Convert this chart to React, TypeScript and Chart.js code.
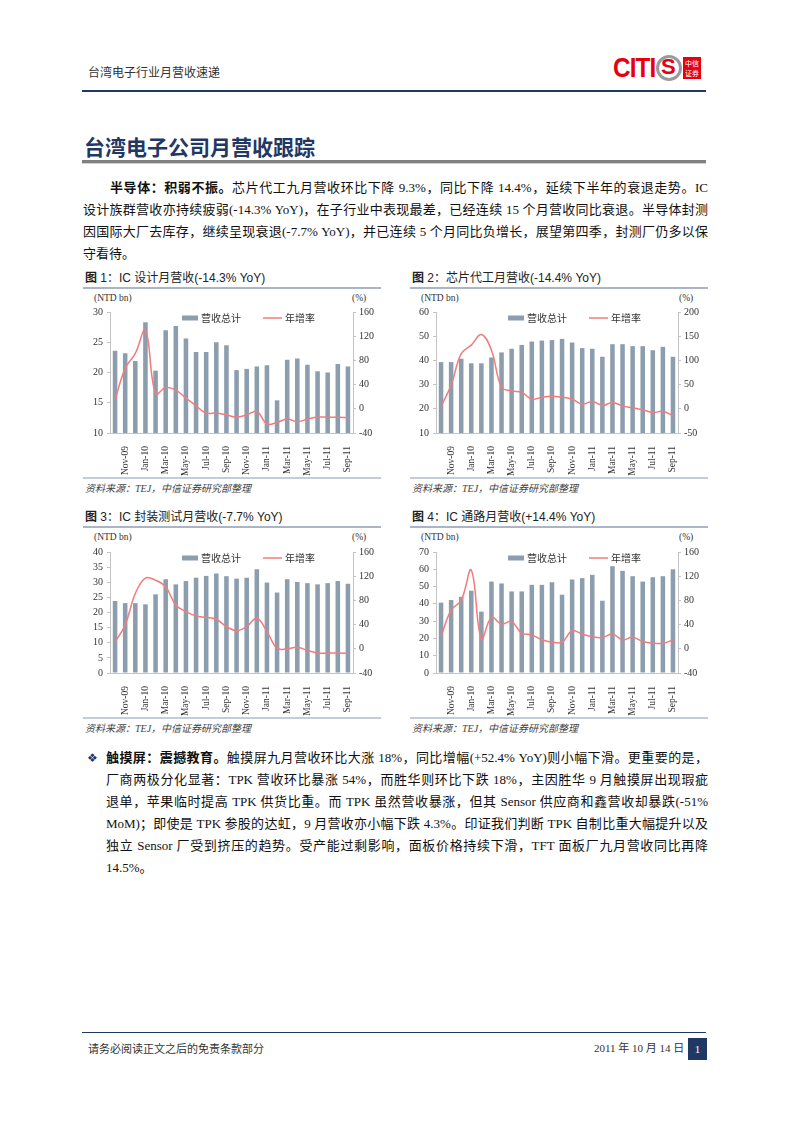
import React, { useEffect, useRef } from 'react';
import { Chart, registerables } from 'chart.js';

Chart.register(...registerables);

// ---------- data ----------
const months = [
  'Oct-09', 'Nov-09', 'Dec-09', 'Jan-10', 'Feb-10', 'Mar-10', 'Apr-10', 'May-10',
  'Jun-10', 'Jul-10', 'Aug-10', 'Sep-10', 'Oct-10', 'Nov-10', 'Dec-10', 'Jan-11',
  'Feb-11', 'Mar-11', 'Apr-11', 'May-11', 'Jun-11', 'Jul-11', 'Aug-11', 'Sep-11',
];

const revenueLabel = '营收总计';
const yoyLabel = '年增率';

// Fig 1: IC design
const designRevenue = [23.6, 23.2, 21.9, 28.3, 20.3, 27.0, 27.7, 25.6, 23.4, 23.4, 25.0, 24.5, 20.4, 20.6, 21.0, 21.2, 15.4, 22.1, 22.3, 21.3, 20.2, 20.0, 21.4, 21.0];
const designYoY = [14.8, 66.8, 91.5, 129.9, 24.7, 35, 31, 17.5, 5, -7, -7, -10, -13.7, -10, -4.4, -25, -22.5, -17, -21.4, -17, -13.7, -14, -14, -14.3];

// Fig 2: foundry
const foundryRevenue = [39.3, 39.3, 40.7, 38.8, 38.8, 41.2, 43.3, 44.8, 46.4, 47.8, 48.2, 48.4, 48.9, 47.4, 45.1, 44.8, 41.5, 46.7, 46.7, 45.9, 45.9, 44.2, 45.6, 41.5];
const foundryYoY = [5, 49, 114, 131.5, 153.4, 121, 44.5, 37, 34, 19.9, 24, 26, 24, 20, 9.6, 15, 7, 13, 6, 2, -2, -7.5, -5.5, -14.4];

// Fig 3: packaging & testing
const packagingRevenue = [23.8, 23.1, 23.1, 22.7, 26.0, 31.0, 29.3, 30.4, 31.5, 32.1, 32.9, 32.0, 31.2, 31.5, 34.3, 29.9, 26.6, 31.0, 30.1, 29.7, 29.3, 29.7, 30.4, 29.5];
const packagingYoY = [11, 39.5, 91.5, 117, 113.4, 102.5, 72.3, 61.4, 54.2, 52, 48.8, 36.7, 30, 36.7, 50.4, 28.5, 1, 0, 2.7, -2.7, -7, -7, -7, -7.7];

// Fig 4: IC distribution
const distributionRevenue = [40.7, 42.2, 44.1, 47.6, 35.5, 52.9, 51.8, 47.2, 47.2, 51.0, 51.0, 52.5, 45.3, 54.1, 54.9, 56.8, 41.8, 61.8, 59.1, 56.0, 52.9, 55.4, 56.0, 60.0];
const distributionYoY = [20.3, 64, 80, 129.9, 15.9, 52, 41, 45, 25.8, 23, 15, 11, 11, 30, 24.4, 20, 18.6, 24.4, 14.8, 19, 12, 9.3, 9.3, 14.4];

// ---------- styles ----------
const BAR = '#8c9eae';
const LINE = '#f27b7b';
const AXIS = '#c4c4c4';
const NAVY = '#1f3864';
const SERIF = "'Liberation Serif', 'Noto Sans CJK SC', serif";
const CJK = "'Noto Sans CJK SC', 'Liberation Sans', sans-serif";
const SANS = "'Liberation Sans', 'Noto Sans CJK SC', sans-serif";

const inLegend = {
  id: 'inLegend',
  afterDatasetsDraw(chart: any) {
    const { ctx, chartArea } = chart;
    const ds = chart.data.datasets;
    const x0 = chartArea.left;
    const y = chartArea.top + 6;
    ctx.save();
    ctx.font = "10px 'Noto Sans CJK SC'";
    ctx.textBaseline = 'middle';
    ctx.fillStyle = ds[0].backgroundColor;
    ctx.fillRect(x0 + 72, y - 2.5, 16, 5);
    ctx.fillStyle = '#333';
    ctx.fillText(ds[0].label, x0 + 91, y);
    ctx.strokeStyle = ds[1].borderColor;
    ctx.lineWidth = 1.5;
    ctx.beginPath();
    ctx.moveTo(x0 + 153, y);
    ctx.lineTo(x0 + 172, y);
    ctx.stroke();
    ctx.fillText(ds[1].label, x0 + 175, y);
    ctx.restore();
  },
};

type ChartProps = {
  left: number; top: number; width: number; height: number;
  revenue: number[]; yoy: number[];
  lMin: number; lMax: number; lStep: number;
  rMin: number; rMax: number; rStep: number;
};

function RevenueChart(p: ChartProps) {
  const ref = useRef<HTMLCanvasElement>(null);
  useEffect(() => {
    const tickFont = { family: 'Liberation Serif', size: 10 };
    const chart = new Chart(ref.current as HTMLCanvasElement, {
      type: 'bar',
      data: {
        labels: months,
        datasets: [
          {
            type: 'bar', label: revenueLabel, data: p.revenue, backgroundColor: BAR,
            yAxisID: 'y', order: 2, categoryPercentage: 1, barPercentage: 0.45,
          } as any,
          {
            type: 'line', label: yoyLabel, data: p.yoy, borderColor: LINE, borderWidth: 1.5,
            pointRadius: 0, tension: 0.4, yAxisID: 'y1', order: 1, fill: false,
          } as any,
        ],
      },
      options: {
        responsive: false,
        animation: false,
        layout: { padding: { top: 12, left: 0, right: 0, bottom: 0 } },
        plugins: { legend: { display: false }, tooltip: { enabled: false } },
        scales: {
          x: {
            offset: true,
            grid: { display: false },
            border: { display: true, color: AXIS },
            ticks: {
              autoSkip: false, maxRotation: 90, minRotation: 90, padding: 5, color: '#333',
              font: { family: 'Liberation Serif', size: 9.5 },
              callback: function (this: any, v: any, i: number) {
                return i % 2 === 1 ? this.getLabelForValue(v) : '';
              },
            },
            afterFit: (s: any) => { s.height = 43; },
          },
          y: {
            position: 'left', min: p.lMin, max: p.lMax,
            ticks: { stepSize: p.lStep, padding: 4, color: '#333', font: tickFont },
            grid: { drawOnChartArea: false, color: AXIS, tickLength: 3 },
            border: { color: AXIS },
            afterFit: (s: any) => { s.width = 28; },
          },
          y1: {
            position: 'right', min: p.rMin, max: p.rMax,
            ticks: { stepSize: p.rStep, padding: 3, color: '#333', font: tickFont },
            grid: { drawOnChartArea: false, color: AXIS, tickLength: 3 },
            border: { color: AXIS },
            afterFit: (s: any) => { s.width = 30; },
          },
        },
      } as any,
      plugins: [inLegend],
    });
    return () => chart.destroy();
  }, []);
  return (
    <canvas
      ref={ref}
      width={p.width}
      height={p.height}
      style={{ position: 'absolute', left: p.left, top: p.top, width: p.width, height: p.height }}
    />
  );
}

function Txt(props: { x: number; y: number; size: number; children: any; style?: any }) {
  const lh = props.size * 1.4;
  return (
    <div
      style={{
        position: 'absolute', left: props.x, top: props.y - lh / 2, fontSize: props.size,
        lineHeight: lh + 'px', whiteSpace: 'nowrap', ...props.style,
      }}
    >
      {props.children}
    </div>
  );
}

function JLine(props: { x: number; y: number; w: number; children: any; last?: boolean }) {
  return (
    <div
      style={{
        position: 'absolute', left: props.x, top: props.y - 11, width: props.w, height: 22,
        lineHeight: '22px', fontSize: 13, fontFamily: SERIF, color: '#111',
        textAlign: props.last ? 'left' : 'justify', textAlignLast: props.last ? 'left' : 'justify',
        whiteSpace: 'nowrap', overflow: 'visible',
      } as any}
    >
      {props.children}
    </div>
  );
}

function HLine(props: { x: number; y: number; w: number; h: number; color: string }) {
  return <div style={{ position: 'absolute', left: props.x, top: props.y, width: props.w, height: props.h, background: props.color }} />;
}

function ChartFrame(props: { x: number; yTitle: number; title: any; src: number; bottom: number; unitY: number; pctX: number }) {
  return (
    <>
      <Txt x={props.x + 2} y={props.yTitle} size={12} style={{ fontFamily: SANS, color: '#222' }}>{props.title}</Txt>
      <HLine x={props.x} y={props.yTitle + 9} w={298} h={1.5} color="#aab6c6" />
      <Txt x={props.x + 11} y={props.yTitle + 21} size={9.5} style={{ fontFamily: SERIF, color: '#333' }}>(NTD bn)</Txt>
      <Txt x={props.pctX} y={props.yTitle + 21} size={9.5} style={{ fontFamily: SERIF, color: '#333' }}>(%)</Txt>
      <HLine x={props.x} y={props.bottom} w={298} h={2} color="#c3ccd8" />
      <Txt x={props.x + 2} y={props.src} size={10} style={{ fontFamily: SERIF, color: '#444', fontStyle: 'italic' }}>资料来源：TEJ，中信证券研究部整理</Txt>
    </>
  );
}

export default function App() {
  return (
    <div style={{ position: 'absolute', left: 0, top: 0, width: 794, height: 1123, background: '#fff', color: '#111' }}>
      {/* header */}
      <Txt x={88} y={72} size={12} style={{ fontFamily: CJK, color: '#333' }}>台湾电子行业月营收速递</Txt>
      <div style={{ position: 'absolute', left: 613, top: 55, height: 26, display: 'flex', alignItems: 'center' }}>
        <span style={{ fontFamily: "'Liberation Sans Narrow', 'Liberation Sans', sans-serif", fontWeight: 700, fontSize: 27, color: '#e50012', letterSpacing: -1, lineHeight: '26px', transform: 'scaleX(0.9)', transformOrigin: 'left' }}>CITI</span>
        <div style={{ marginLeft: -4, width: 20, height: 20, borderRadius: '50%', border: '3px solid #9b9b9b', position: 'relative', boxSizing: 'content-box' }}>
          <span style={{ position: 'absolute', left: 2, top: -4, fontFamily: SANS, fontWeight: 700, fontSize: 22, color: '#e50012', lineHeight: '26px' }}>S</span>
        </div>
        <div style={{ marginLeft: 1, width: 18, height: 22, background: '#e50012', color: '#fff', fontSize: 7, lineHeight: '10px', fontFamily: CJK, display: 'flex', flexWrap: 'wrap', alignContent: 'center', justifyContent: 'center' }}>
          <span>中信</span><span>证券</span>
        </div>
      </div>
      <HLine x={82} y={90} w={624} h={1.5} color={NAVY} />

      {/* title */}
      <Txt x={84} y={147} size={21} style={{ fontFamily: CJK, fontWeight: 700, color: NAVY }}>台湾电子公司月营收跟踪</Txt>
      <HLine x={82} y={160} w={624} h={3} color="#808080" />
      <HLine x={82} y={163} w={624} h={1} color="#d0d0d0" />

      {/* paragraph 1 */}
      <JLine x={110} y={188} w={598}><b>半导体：积弱不振。</b>芯片代工九月营收环比下降 9.3%，同比下降 14.4%，延续下半年的衰退走势。IC</JLine>
      <JLine x={83} y={210} w={625}>设计族群营收亦持续疲弱(-14.3% YoY)，在子行业中表现最差，已经连续 15 个月营收同比衰退。半导体封测</JLine>
      <JLine x={83} y={232} w={625}>因国际大厂去库存，继续呈现衰退(-7.7% YoY)，并已连续 5 个月同比负增长，展望第四季，封测厂仍多以保</JLine>
      <JLine x={83} y={254} w={625} last>守看待。</JLine>

      {/* charts */}
      <ChartFrame x={83} yTitle={278} title={<><b>图</b> 1：IC 设计月营收(-14.3% YoY)</>} src={489} bottom={477} unitY={299} pctX={352} />
      <ChartFrame x={410} yTitle={278} title={<><b>图</b> 2：芯片代工月营收(-14.4% YoY)</>} src={489} bottom={477} unitY={299} pctX={679} />
      <ChartFrame x={83} yTitle={517} title={<><b>图</b> 3：IC 封装测试月营收(-7.7% YoY)</>} src={729} bottom={717} unitY={540} pctX={352} />
      <ChartFrame x={410} yTitle={517} title={<><b>图</b> 4：IC 通路月营收(+14.4% YoY)</>} src={729} bottom={717} unitY={540} pctX={679} />

      <RevenueChart left={82} top={300} width={301} height={176} revenue={designRevenue} yoy={designYoY} lMin={10} lMax={30} lStep={5} rMin={-40} rMax={160} rStep={40} />
      <RevenueChart left={408} top={300} width={300} height={176} revenue={foundryRevenue} yoy={foundryYoY} lMin={10} lMax={60} lStep={10} rMin={-50} rMax={200} rStep={50} />
      <RevenueChart left={82} top={540} width={301} height={176} revenue={packagingRevenue} yoy={packagingYoY} lMin={0} lMax={40} lStep={5} rMin={-40} rMax={160} rStep={40} />
      <RevenueChart left={408} top={540} width={300} height={176} revenue={distributionRevenue} yoy={distributionYoY} lMin={0} lMax={70} lStep={10} rMin={-40} rMax={160} rStep={40} />

      {/* paragraph 2 */}
      <Txt x={87} y={758} size={12} style={{ fontFamily: "'DejaVu Sans', sans-serif", color: '#1f3864' }}>❖</Txt>
      <JLine x={106} y={758} w={602}><b>触摸屏：震撼教育。</b>触摸屏九月营收环比大涨 18%，同比增幅(+52.4% YoY)则小幅下滑。更重要的是，</JLine>
      <JLine x={106} y={780} w={602}>厂商两极分化显著：TPK 营收环比暴涨 54%，而胜华则环比下跌 18%，主因胜华 9 月触摸屏出现瑕疵</JLine>
      <JLine x={106} y={802} w={602}>退单，苹果临时提高 TPK 供货比重。而 TPK 虽然营收暴涨，但其 Sensor 供应商和鑫营收却暴跌(-51%</JLine>
      <JLine x={106} y={824} w={602}>MoM)；即使是 TPK 参股的达虹，9 月营收亦小幅下跌 4.3%。印证我们判断 TPK 自制比重大幅提升以及</JLine>
      <JLine x={106} y={846} w={602}>独立 Sensor 厂受到挤压的趋势。受产能过剩影响，面板价格持续下滑，TFT 面板厂九月营收同比再降</JLine>
      <JLine x={106} y={868} w={602} last>14.5%。</JLine>

      {/* footer */}
      <HLine x={82} y={1032} w={624} h={1} color={NAVY} />
      <Txt x={88} y={1049} size={11} style={{ fontFamily: CJK, color: '#333' }}>请务必阅读正文之后的免责条款部分</Txt>
      <Txt x={594} y={1049} size={11} style={{ fontFamily: SERIF, color: '#333' }}>2011 年 10 月 14 日</Txt>
      <div style={{ position: 'absolute', left: 688, top: 1038, width: 19, height: 22, background: NAVY, color: '#fff', fontFamily: SERIF, fontSize: 11, lineHeight: '22px', textAlign: 'center' }}>1</div>
    </div>
  );
}
